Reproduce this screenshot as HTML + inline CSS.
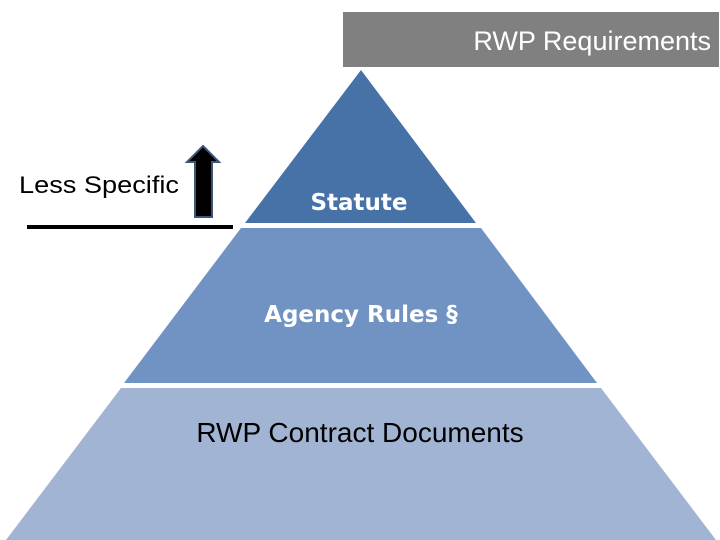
<!DOCTYPE html>
<html><head><meta charset="utf-8"><style>
html,body{margin:0;padding:0;background:#fff;}
svg{display:block}
</style></head><body>
<svg width="720" height="540" viewBox="0 0 720 540" xmlns="http://www.w3.org/2000/svg">
<rect x="343" y="12" width="376" height="55" fill="#808080"/>
<text x="711" y="50" text-anchor="end" font-family="Liberation Sans, sans-serif" font-size="27" fill="#fff">RWP Requirements</text>
<polygon points="361,70 476,223 245,223" fill="#4672a8"/>
<polygon points="241,228 481,228 597,383 124,383" fill="#7093c3"/>
<polygon points="121,388 601,388 716,540 6,540" fill="#a2b4d4"/>
<text x="359" y="210" text-anchor="middle" font-family="DejaVu Sans, sans-serif" font-weight="bold" font-size="23" fill="#fff">Statute</text>
<text x="361" y="322" text-anchor="middle" font-family="DejaVu Sans, sans-serif" font-weight="bold" font-size="23" fill="#fff">Agency Rules §</text>
<text x="360" y="442" text-anchor="middle" font-family="Liberation Sans, sans-serif" font-size="28" fill="#000">RWP Contract Documents</text>
<text x="19" y="193" font-family="Liberation Sans, sans-serif" font-size="24" fill="#000" textLength="160" lengthAdjust="spacingAndGlyphs">Less Specific</text>
<line x1="27" y1="227" x2="233" y2="227" stroke="#000" stroke-width="4"/>
<polygon points="203,146 219,162 212,162 212,217 195,217 195,162 187,162" fill="#000" stroke="#3d5578" stroke-width="2"/>
</svg>
</body></html>
